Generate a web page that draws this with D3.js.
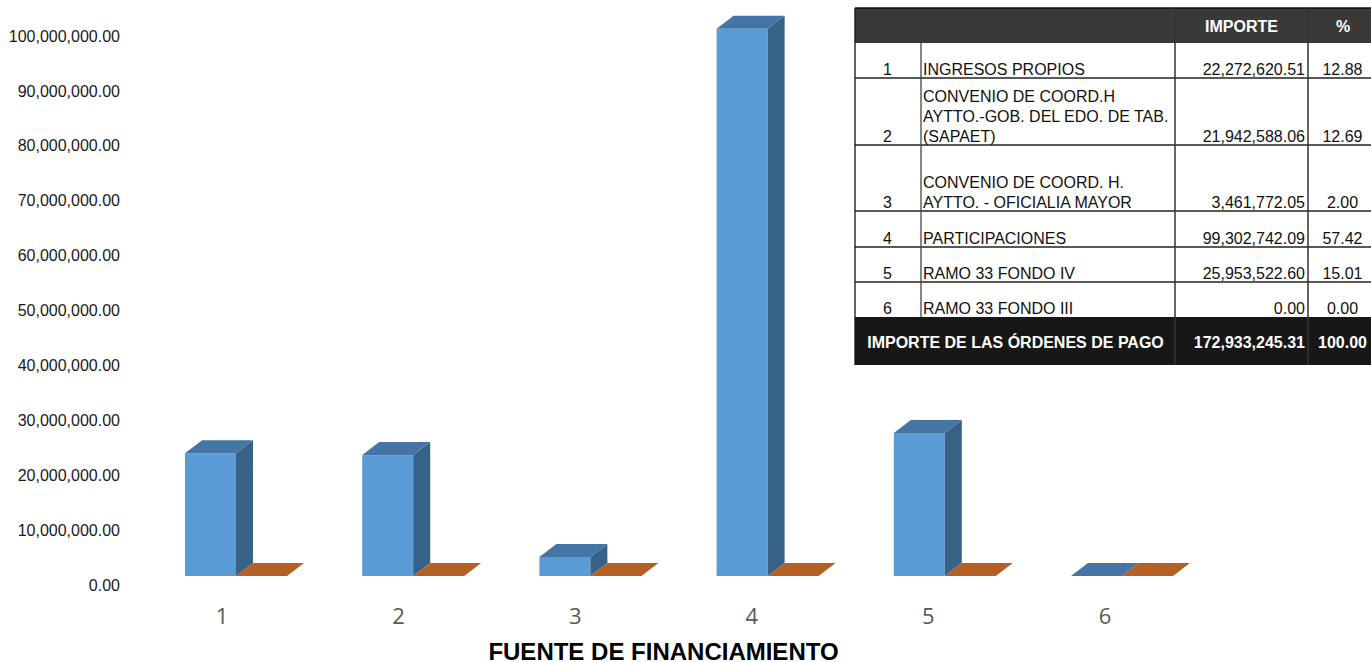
<!DOCTYPE html>
<html>
<head>
<meta charset="utf-8">
<title>Fuente de financiamiento</title>
<script src="https://cdn.jsdelivr.net/npm/d3@7"></script>
<style>
    html, body { margin: 0; padding: 0; background: #fff; overflow: hidden; }
    svg { display: block; }
</style>
</head>
<body>
<svg id="chart" width="1371" height="662"></svg>
<script>
// data
var categories = ["1", "2", "3", "4", "5", "6"];
var importe = [22272620.51, 21942588.06, 3461772.05, 99302742.09, 25953522.60, 0];
var porcentaje = [12.88, 12.69, 2.00, 57.42, 15.01, 0];
var tickValues = [0, 10000000, 20000000, 30000000, 40000000, 50000000, 60000000, 70000000, 80000000, 90000000, 100000000];
var axisTitle = "FUENTE DE FINANCIAMIENTO";

var conceptos = [
    ["INGRESOS PROPIOS"],
    ["CONVENIO DE COORD.H", "AYTTO.-GOB. DEL EDO. DE TAB.", "(SAPAET)"],
    ["CONVENIO DE COORD. H.", "AYTTO. - OFICIALIA MAYOR"],
    ["PARTICIPACIONES"],
    ["RAMO 33 FONDO IV"],
    ["RAMO 33 FONDO III"]
];
var importeText = ["22,272,620.51", "21,942,588.06", "3,461,772.05", "99,302,742.09", "25,953,522.60", "0.00"];
var porcentajeText = ["12.88", "12.69", "2.00", "57.42", "15.01", "0.00"];
var headers = ["IMPORTE", "%"];
var totalLabel = "IMPORTE DE LAS ÓRDENES DE PAGO";
var totalImporte = "172,933,245.31";
var totalPorcentaje = "100.00";

var svg = d3.select("#chart");
var arial = "'Liberation Sans', Arial, sans-serif";

// scales
var xScale = d3.scaleBand().domain(categories).range([133.4, 1196.6]);
// category labels run on a slightly tighter step than the columns (3d view)
var xLabelScale = d3.scaleBand().domain(categories).range([133.7, 1193.3]);
var yScale = d3.scaleLinear().domain([0, 100000000]).range([576, 25]);
// the tick labels sit a bit lower than the bars because of the 3d floor
var tickScale = d3.scaleLinear().domain([0, 100000000]).range([585, 36]);

var barW = 51, depthX = 17, depthY = 13;
var barOffset = 51.6;

// axes
var yAxis = d3.axisLeft(tickScale)
    .tickValues(tickValues)
    .tickSize(0)
    .tickPadding(0)
    .tickFormat(d3.format(",.2f"));
var yG = svg.append("g").attr("transform", "translate(120,0)").call(yAxis);
yG.select(".domain").remove();
yG.selectAll("text")
    .attr("font-family", arial)
    .attr("font-size", 16)
    .attr("fill", "#1a1a1a");

var xAxis = d3.axisBottom(xLabelScale).tickSize(0).tickPadding(0);
var xG = svg.append("g").attr("transform", "translate(0,608.4)").call(xAxis);
xG.select(".domain").remove();
xG.selectAll("text")
    .attr("font-family", "'Open Sans', sans-serif")
    .attr("font-size", 22)
    .attr("fill", "#595959");

svg.append("text")
    .attr("x", 663.5)
    .attr("y", 660)
    .attr("text-anchor", "middle")
    .attr("font-family", arial)
    .attr("font-weight", "bold")
    .attr("font-size", 24)
    .text(axisTitle);

// 3d columns
function box(g, x, yTop, base, front, top, side) {
    g.append("rect")
        .attr("x", x).attr("y", yTop)
        .attr("width", barW).attr("height", base - yTop)
        .attr("fill", front);
    g.append("path")
        .attr("d", d3.line()([[x + barW, yTop], [x + barW + depthX, yTop - depthY], [x + barW + depthX, base - depthY], [x + barW, base]]) + "Z")
        .attr("fill", side);
    g.append("path")
        .attr("d", d3.line()([[x, yTop], [x + depthX, yTop - depthY], [x + barW + depthX, yTop - depthY], [x + barW, yTop]]) + "Z")
        .attr("fill", top);
}

var bars = svg.append("g");
categories.forEach(function (c, i) {
    var x = xScale(c) + barOffset;
    box(bars, x, yScale(importe[i]), yScale(0), "#5B9BD5", "#4475A5", "#376288");
});
categories.forEach(function (c, i) {
    var x = xScale(c) + barOffset + barW;
    box(bars, x, yScale(porcentaje[i]), yScale(0), "#B55F22", "#B55F22", "#B55F22");
});

// table
var colX = [855, 921, 1175, 1308, 1371];
var rowY = [43, 78, 145, 211, 247, 282, 317];
var table = svg.append("g");

table.append("rect").attr("x", colX[0]).attr("y", 8)
    .attr("width", colX[4] - colX[0]).attr("height", 35).attr("fill", "#3A3937");
table.append("rect").attr("x", colX[0]).attr("y", 317)
    .attr("width", colX[4] - colX[0]).attr("height", 48).attr("fill", "#171717");

function cell(x, y, str, anchor, bold, color) {
    table.append("text")
        .attr("x", x).attr("y", y)
        .attr("text-anchor", anchor)
        .attr("font-family", arial)
        .attr("font-size", 16)
        .attr("font-weight", bold ? "bold" : "normal")
        .attr("fill", color || "#111")
        .text(str);
}

// rules
rowY.slice(1, 6).forEach(function (y) {
    table.append("line").attr("x1", colX[0]).attr("x2", colX[4])
        .attr("y1", y).attr("y2", y)
        .attr("stroke", "#222").attr("stroke-width", 1.3);
});
table.append("path")
    .attr("d", "M" + colX[0] + ",8H" + colX[4] + "M" + colX[0] + ",8V365")
    .attr("fill", "none").attr("stroke", "#111").attr("stroke-width", 1.3);
[colX[2], colX[3]].forEach(function (x) {
    table.append("line").attr("x1", x).attr("x2", x).attr("y1", 8).attr("y2", 365)
        .attr("stroke", "#333").attr("stroke-width", 1.5);
});
table.append("line").attr("x1", colX[1]).attr("x2", colX[1]).attr("y1", 43).attr("y2", 317)
    .attr("stroke", "#444").attr("stroke-width", 1.3);

// header
cell(1241.5, 32, headers[0], "middle", true, "#fff");
cell(1343, 32, headers[1], "middle", true, "#fff");

// rows
categories.forEach(function (c, i) {
    var base = rowY[i + 1] - 3;
    cell(887.5, base, c, "middle", false);
    conceptos[i].forEach(function (line, j) {
        var y = base - (conceptos[i].length - 1 - j) * 20;
        cell(923, y, line, "start", false);
    });
    cell(1305, base, importeText[i], "end", false);
    cell(1342.5, base, porcentajeText[i], "middle", false);
});

// total
cell(1015.5, 348, totalLabel, "middle", true, "#fff");
cell(1305, 348, totalImporte, "end", true, "#fff");
cell(1342.5, 348, totalPorcentaje, "middle", true, "#fff");
</script>
</body>
</html>
